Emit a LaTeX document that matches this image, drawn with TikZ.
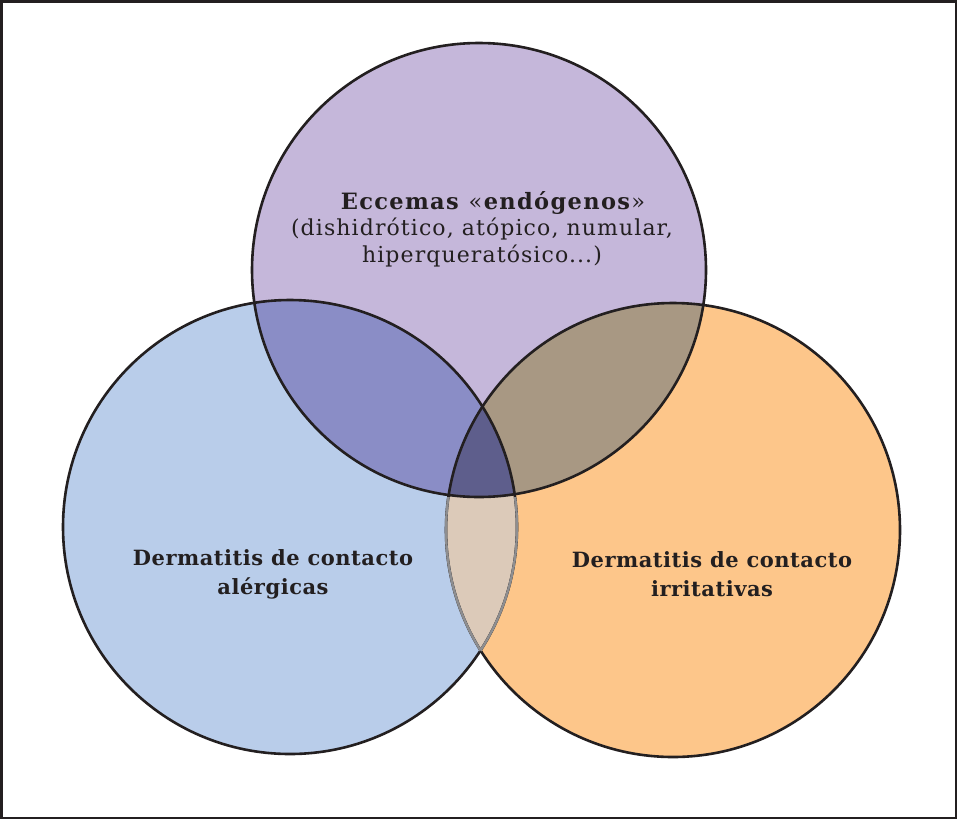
\documentclass[tikz,border=0pt]{standalone}
\usepackage{fontspec}
\setmainfont{DejaVu Serif}
\newfontfamily\topfont[LetterSpace=5]{DejaVu Serif}
\newfontfamily\headfont[LetterSpace=6]{DejaVu Serif}
\newfontfamily\lblfont[LetterSpace=2.5]{DejaVu Serif}
\definecolor{ink}{HTML}{231F20}
\definecolor{cTop}{HTML}{C5B7DA}
\definecolor{cLeft}{HTML}{B9CDEA}
\definecolor{cRight}{HTML}{FDC68A}
\definecolor{cTL}{HTML}{8A8DC6}
\definecolor{cTR}{HTML}{A89883}
\definecolor{cMid}{HTML}{5E5E8C}
\definecolor{cLens}{HTML}{DCCAB9}
\definecolor{cLensLine}{HTML}{8E8E90}
\tikzset{
  ring/.style={draw=ink, line width=2.6pt},
  label/.style={text=ink, align=center, inner sep=0pt},
}
\begin{document}
\begin{tikzpicture}[x=1pt,y=-1pt]
\useasboundingbox (0,0) rectangle (958,820);
\fill[white] (0,0) rectangle (958,820);
\draw[draw=ink, line width=2.8pt] (1.5,1.5) rectangle (956,818);
\coordinate (T) at (479,270);
\coordinate (L) at (290,527);
\coordinate (R) at (673,530);
\def\rad{227}
% base fills
\fill[cTop] (T) circle (\rad);
\fill[cLeft] (L) circle (\rad);
\fill[cRight] (R) circle (\rad);
\begin{scope}
  \clip (T) circle (\rad);
  \fill[cTL] (L) circle (\rad);
  \fill[cTR] (R) circle (\rad);
  \clip (L) circle (\rad);
  \fill[cMid] (R) circle (\rad);
\end{scope}
% bottom lens
\begin{scope}
  \clip (L) circle (\rad);
  \clip (0,496) rectangle (958,820);
  \fill[cLens] (R) circle (\rad);
\end{scope}
% outlines
\draw[ring] (L) circle (\rad);
\draw[ring] (R) circle (\rad);
\begin{scope}
  \clip (0,497) rectangle (958,820);
  \begin{scope}
    \clip (L) circle (\rad);
    \draw[draw=cLensLine, line width=2.4pt] (R) circle (\rad);
  \end{scope}
  \begin{scope}
    \clip (R) circle (\rad);
    \draw[draw=cLensLine, line width=2.4pt] (L) circle (\rad);
  \end{scope}
\end{scope}
\draw[ring] (T) circle (\rad);
% texts
\node[label, font=\topfont\fontsize{22}{26.5}\selectfont] (tEnd) at (482,229) {{\headfont\fontsize{22.5}{26.5}\selectfont\hspace*{22pt}\textbf{Eccemas} «\textbf{endógenos}»}\\(dishidrótico, atópico, numular,\\hiperqueratósico...)};
\node[label, font=\lblfont\bfseries\fontsize{21}{29}\selectfont] (tAle) at (273,574) {Dermatitis de contacto\\alérgicas};
\node[label, font=\lblfont\bfseries\fontsize{21}{29}\selectfont] (tIrr) at (712,574) {Dermatitis de contacto\\irritativas};
\end{tikzpicture}
\end{document}
